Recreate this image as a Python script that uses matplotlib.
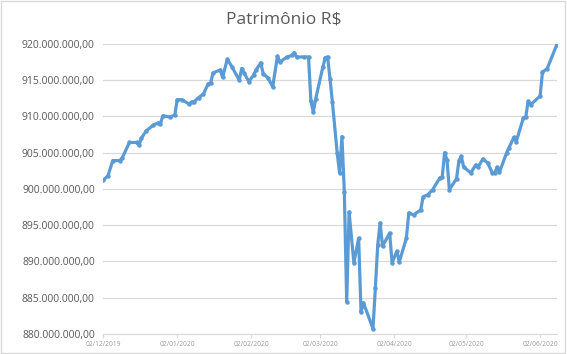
import matplotlib
matplotlib.use('Agg')
import matplotlib.pyplot as plt
import matplotlib.dates as mdates
import matplotlib.ticker as mticker
from matplotlib.patches import Rectangle
import numpy as np
import pandas as pd

plt.rcParams['font.family'] = ['Open Sans', 'DejaVu Sans']

# dias desde 02/12/2019 e patrimônio (milhões de R$)
start = pd.Timestamp('2019-12-02')
days = [0, 2, 4, 7, 8, 11, 14, 15, 16, 18, 21, 23, 24, 25, 28, 30, 31, 33, 36, 37,
        38, 40, 42, 44, 45, 46, 49, 50, 52, 54, 57, 58, 59, 61, 63, 64, 66, 67, 69, 71,
        73, 74, 77, 79, 80, 81, 84, 86, 87, 88, 89, 92, 93, 94, 95, 96, 98, 99, 100, 101,
        102, 103, 105, 107, 108, 109, 113, 114, 115, 116, 117, 120, 121, 123, 124, 127, 128, 130, 133, 134,
        136, 138, 141, 142, 143, 144, 145, 148, 149, 150, 151, 154, 156, 157, 159, 161, 163, 164, 165, 166,
        169, 170, 172, 173, 176, 177, 178, 179, 183, 184, 186, 190]
valores = [901.2, 901.8, 903.9, 903.9, 904.3, 906.4, 906.4, 906.0, 907.0, 908.0,
           908.8, 909.1, 909.0, 910.1, 909.9, 910.2, 912.3, 912.3, 911.7, 912.0,
           912.0, 912.6, 913.1, 914.5, 914.6, 916.0, 916.4, 915.4, 917.9, 916.8,
           915.0, 916.6, 916.0, 914.8, 915.7, 916.4, 917.4, 915.9, 915.3, 914.1,
           918.3, 917.5, 918.2, 918.4, 918.8, 918.2, 918.2, 918.2, 912.1, 910.6,
           912.4, 916.8, 918.1, 918.2, 915.2, 912.0, 905.0, 902.2, 907.2, 899.6,
           884.4, 896.8, 889.8, 893.2, 883.0, 884.3, 880.7, 886.3, 892.3, 895.3,
           892.1, 893.9, 889.8, 891.4, 889.9, 893.2, 896.7, 896.4, 897.1, 898.9,
           899.2, 899.9, 901.5, 901.6, 905.0, 904.0, 899.9, 901.4, 903.9, 904.5,
           903.0, 902.2, 903.3, 903.0, 904.1, 903.6, 902.2, 902.2, 903.0, 902.3,
           905.0, 905.7, 907.1, 906.5, 909.8, 909.9, 912.1, 911.6, 912.8, 916.1,
           916.6, 919.9]
datas = [start + pd.Timedelta(days=d) for d in days]
ticks_x = pd.date_range('2019-12-01', periods=7, freq='MS') + pd.Timedelta(days=1)
ticks_y = np.arange(880, 921, 5)

fig = plt.figure(figsize=(5.67, 3.54), dpi=100)
ax = fig.add_axes([0.182, 0.057, 0.8, 0.819])

ax.plot(datas, valores, color='#5b9bd5', lw=2.3, marker='o', ms=2.2,
        solid_joinstyle='round', zorder=3)

ax.set_yticks(ticks_y)
ax.set_ylim(880, 920)
ax.set_xticks(ticks_x)
ax.set_xlim(datas[0], datas[-1])
ax.xaxis.set_major_formatter(mdates.DateFormatter('%d/%m/%Y'))

def fmt(v, pos):
    s = f"{v * 1e6:,.2f}"
    return s.replace(',', 'X').replace('.', ',').replace('X', '.')
ax.yaxis.set_major_formatter(mticker.FuncFormatter(fmt))

ax.grid(axis='y', color='#d9d9d9', lw=0.9)
ax.set_axisbelow(True)
for s in ['top', 'right', 'left']:
    ax.spines[s].set_visible(False)
ax.spines['bottom'].set_color('#d9d9d9')
ax.tick_params(axis='y', length=0, labelsize=7.5, labelcolor='#595959', pad=6)
ax.tick_params(axis='x', length=3, color='#d9d9d9', labelsize=4.8, labelcolor='#9a9a9a', pad=2)

fig.text(0.5, 0.945, 'Patrimônio R$', ha='center', va='center', fontsize=12.5, color='#595959')
fig.add_artist(Rectangle((0.002, 0.003), 0.995, 0.994, transform=fig.transFigure,
                         fill=False, edgecolor='#d9d9d9', lw=1))

fig.savefig('out.png', dpi=100)
